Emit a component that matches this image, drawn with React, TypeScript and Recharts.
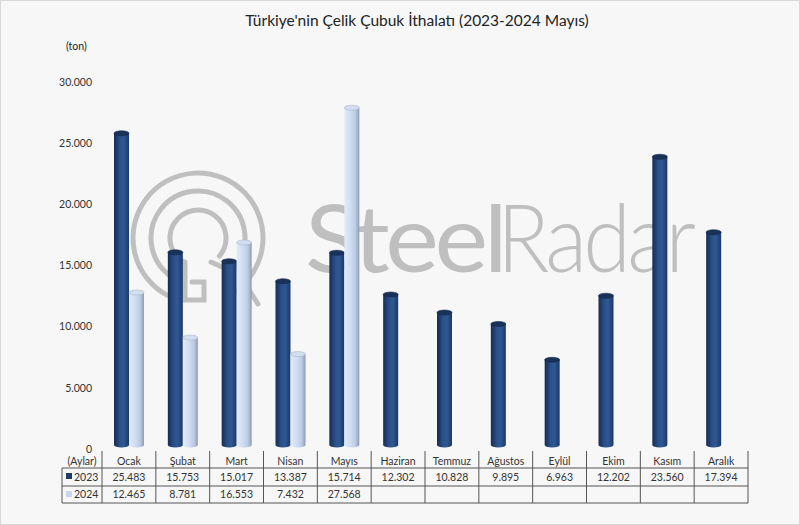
import React from 'react';
import { Bar, BarChart, XAxis, YAxis } from 'recharts';

// Aylık çelik çubuk ithalatı (ton)
const months = ['Ocak', 'Şubat', 'Mart', 'Nisan', 'Mayıs', 'Haziran', 'Temmuz', 'Ağustos', 'Eylül', 'Ekim', 'Kasım', 'Aralık'];
const values2023 = [25483, 15753, 15017, 13387, 15714, 12302, 10828, 9895, 6963, 12202, 23560, 17394];
const values2024: (number | null)[] = [12465, 8781, 16553, 7432, 27568, null, null, null, null, null, null, null];
const seriesNames = ['2023', '2024'];
const yTicks = [0, 5000, 10000, 15000, 20000, 25000, 30000];

const W = 800;
const H = 525;
const MARGIN = { top: 82, right: 52, left: 0, bottom: 22 };
const Y_W = 102;
const X_H = 54;
const COL_W = (W - MARGIN.left - MARGIN.right - Y_W) / months.length;
const FONT = 'Lato, "Open Sans", sans-serif';
const TXT = '#333333';
const GRID = '#555555';

const data = months.map((m, i) => ({ month: m, y2023: values2023[i], y2024: values2024[i] }));

const fmt = (v: number | null | undefined) =>
  v == null ? '' : String(v).replace(/\B(?=(\d{3})+(?!\d))/g, '.');

function Cylinder(props: any) {
  const { x, y, width, height, dark } = props;
  if (!height || height <= 0) return null;
  const lift = 4; // 3B görünümdeki zemin kayması
  const rx = width / 2;
  const ry = 2.5;
  const top = y - lift;
  const bottom = y + height - lift;
  return (
    <g>
      <path
        d={`M${x},${top} L${x},${bottom} A${rx},${ry} 0 0 0 ${x + width},${bottom} L${x + width},${top} Z`}
        fill={dark ? 'url(#gDark)' : 'url(#gLight)'}
      />
      <ellipse
        cx={x + rx}
        cy={top}
        rx={rx}
        ry={ry}
        fill={dark ? '#1a3258' : '#d3dff0'}
        stroke={dark ? '#14284a' : '#a9b6c9'}
        strokeWidth={0.6}
      />
    </g>
  );
}

function TableTick(props: any) {
  const { x, payload } = props;
  const i = payload.index;
  const left = x - COL_W / 2;
  const right = x + COL_W / 2;
  const rows = [values2023[i], values2024[i]];
  return (
    <g fontFamily={FONT} fontSize={10.5} fill={TXT}>
      <text x={x} y={465} textAnchor="middle">{payload.value}</text>
      {rows.map((v, r) => (
        <text key={r} x={x} y={481 + r * 17} textAnchor="middle">{fmt(v)}</text>
      ))}
      <line x1={right} x2={right} y1={451} y2={503} stroke={GRID} strokeWidth={1} />
      {i === 0 && (
        <g>
          <line x1={left} x2={left} y1={451} y2={503} stroke={GRID} strokeWidth={1} />
          <line x1={62} x2={62} y1={468} y2={503} stroke={GRID} strokeWidth={1} />
          {[468, 486, 503].map((yy) => (
            <line key={yy} x1={62} x2={left + COL_W * months.length} y1={yy} y2={yy} stroke={GRID} strokeWidth={1} />
          ))}
          <text x={82} y={465} textAnchor="middle">(Aylar)</text>
          {seriesNames.map((s, r) => (
            <g key={s}>
              <rect x={66} y={473 + r * 18} width={6} height={6} fill={r === 0 ? '#1f3b66' : '#c9d8ee'} />
              <text x={74} y={481 + r * 17}>{s}</text>
            </g>
          ))}
        </g>
      )}
    </g>
  );
}

function arc(cx: number, cy: number, r: number, a1: number, a2: number) {
  const p = (a: number) => [cx + r * Math.cos((a * Math.PI) / 180), cy + r * Math.sin((a * Math.PI) / 180)];
  const [x1, y1] = p(a1);
  const [x2, y2] = p(a2);
  const sweep = ((a2 - a1) + 360) % 360;
  return `M${x1},${y1} A${r},${r} 0 ${sweep > 180 ? 1 : 0} 1 ${x2},${y2}`;
}

function Background() {
  const wm = '#bfbfbf';
  return (
    <svg width={W} height={H} style={{ position: 'absolute', left: 0, top: 0 }}>
      <defs>
        <linearGradient id="gDark" x1="0" y1="0" x2="1" y2="0">
          <stop offset="0" stopColor="#162c52" />
          <stop offset="0.4" stopColor="#2b518b" />
          <stop offset="0.65" stopColor="#2e5894" />
          <stop offset="1" stopColor="#1c3866" />
        </linearGradient>
        <linearGradient id="gLight" x1="0" y1="0" x2="1" y2="0">
          <stop offset="0" stopColor="#e2ebf8" />
          <stop offset="0.4" stopColor="#d0def3" />
          <stop offset="0.75" stopColor="#bccbe3" />
          <stop offset="1" stopColor="#8e9aae" />
        </linearGradient>
      </defs>
      <g fill="none" stroke={wm} strokeWidth={5} strokeLinecap="round">
        <path d={arc(198, 238, 65, 118, 55)} />
        <path d={arc(198, 238, 47, 128, 38)} />
        <path d={arc(198, 238, 28, 120, 40)} />
        <path d={`M246,285 L258,304`} />
        <path d={`M211,262 L222,267 M185,262 L185,300 L204,300 L204,282 L192,282`} />
      </g>
      <g transform="translate(305,272) scale(1.08,1)">
        <text x={0} y={0} fill={wm} fontFamily={FONT} fontWeight={400} fontSize={94} letterSpacing={-4}>
          Steel
        </text>
      </g>
      <g transform="translate(497,272) scale(0.92,1)">
        <text x={0} y={0} fill={wm} fontFamily={FONT} fontWeight={300} fontSize={94} letterSpacing={-4}>
          Radar
        </text>
      </g>
      <text x={417} y={26} textAnchor="middle" fontFamily={FONT} fontSize={15.5} fill="#222">
        Türkiye'nin Çelik Çubuk İthalatı (2023-2024 Mayıs)
      </text>
      <text x={66} y={50} fontFamily={FONT} fontSize={10.5} fill="#222">(ton)</text>
    </svg>
  );
}

export default function App() {
  return (
    <div
      style={{
        position: 'relative',
        width: W,
        height: H,
        background: '#f7f7f7',
        boxShadow: 'inset 0 0 0 1px #d9d9d9',
      }}
    >
      <style>{'body{margin:0}'}</style>
      <Background />
      <div style={{ position: 'absolute', left: 0, top: 0 }}>
        <BarChart width={W} height={H} data={data} margin={MARGIN} barGap={0} barSize={15}>
          <YAxis
            width={Y_W}
            domain={[0, 30000]}
            ticks={yTicks}
            axisLine={false}
            tickLine={false}
            tickMargin={4}
            tickFormatter={(v) => fmt(v)}
            tick={{ fill: TXT, fontSize: 10.5, fontFamily: FONT }}
          />
          <XAxis
            dataKey="month"
            height={X_H}
            axisLine={false}
            tickLine={false}
            interval={0}
            tick={(p: any) => <TableTick {...p} />}
          />
          <Bar dataKey="y2023" name="2023" isAnimationActive={false} shape={(p: any) => <Cylinder {...p} dark />} />
          <Bar dataKey="y2024" name="2024" isAnimationActive={false} shape={(p: any) => <Cylinder {...p} />} />
        </BarChart>
      </div>
    </div>
  );
}
